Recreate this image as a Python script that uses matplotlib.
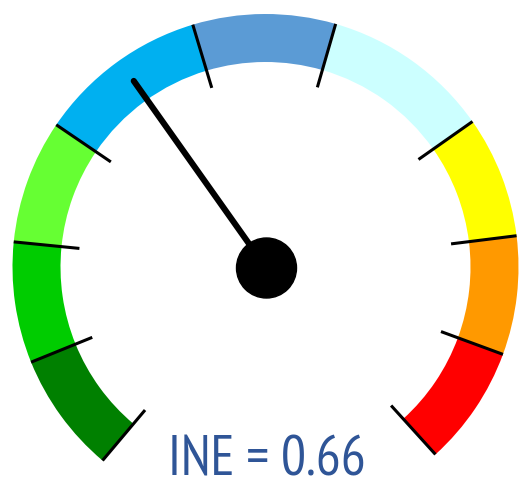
import matplotlib
matplotlib.use("Agg")
import matplotlib.pyplot as plt
from matplotlib.patches import Circle
import numpy as np

# Gauge bands (angular size in degrees, clockwise from start)
band_names = ["dark green", "green", "light green", "blue", "steel blue",
              "light cyan", "yellow", "orange", "red"]
band_sizes = [27.8, 27.8, 28.5, 39.1, 32.8, 38.8, 28.0, 27.3, 27.6]
band_colors = ["#008000", "#00CC00", "#66FF33", "#00B0F0", "#5B9BD5",
               "#CCFFFF", "#FFFF00", "#FF9900", "#FF0000"]
start_angle = 229.9          # degrees, where the first band begins
needle_offset = 104.6        # degrees clockwise from start
label_text = "INE = 0.66"

W, H = 521, 488
fig = plt.figure(figsize=(W / 100, H / 100), dpi=100)
ax = fig.add_axes([0, 0, 1, 1])

cx, cy = 265.5, H - 267
r_out, ring_w = 253, 48
tick_in = 187

hidden = 360 - sum(band_sizes)
ax.pie(band_sizes + [hidden], colors=band_colors + ["none"],
       startangle=start_angle, counterclock=False, center=(cx, cy),
       radius=r_out, wedgeprops=dict(width=ring_w, linewidth=0))

# ticks at band boundaries
bounds = start_angle - np.concatenate([[0], np.cumsum(band_sizes)])
for a in np.deg2rad(bounds):
    ax.plot([cx + tick_in * np.cos(a), cx + r_out * np.cos(a)],
            [cy + tick_in * np.sin(a), cy + r_out * np.sin(a)],
            color="black", lw=2.2, solid_capstyle="butt", zorder=3)

# needle
na = np.deg2rad(start_angle - needle_offset)
ax.plot([cx, cx + 228 * np.cos(na)], [cy, cy + 228 * np.sin(na)],
        color="black", lw=4.4, solid_capstyle="round", zorder=4)
ax.add_patch(Circle((cx + 1, cy - 1), 30, color="black", zorder=5))

ax.text(267, 2, label_text, ha="center", va="bottom", fontsize=40,
        color="#2F5597", family=["PT Sans Narrow", "DejaVu Sans"])

ax.set_xlim(0, W)
ax.set_ylim(0, H)
ax.set_aspect("auto")
ax.axis("off")
fig.savefig("out.png", dpi=100)
